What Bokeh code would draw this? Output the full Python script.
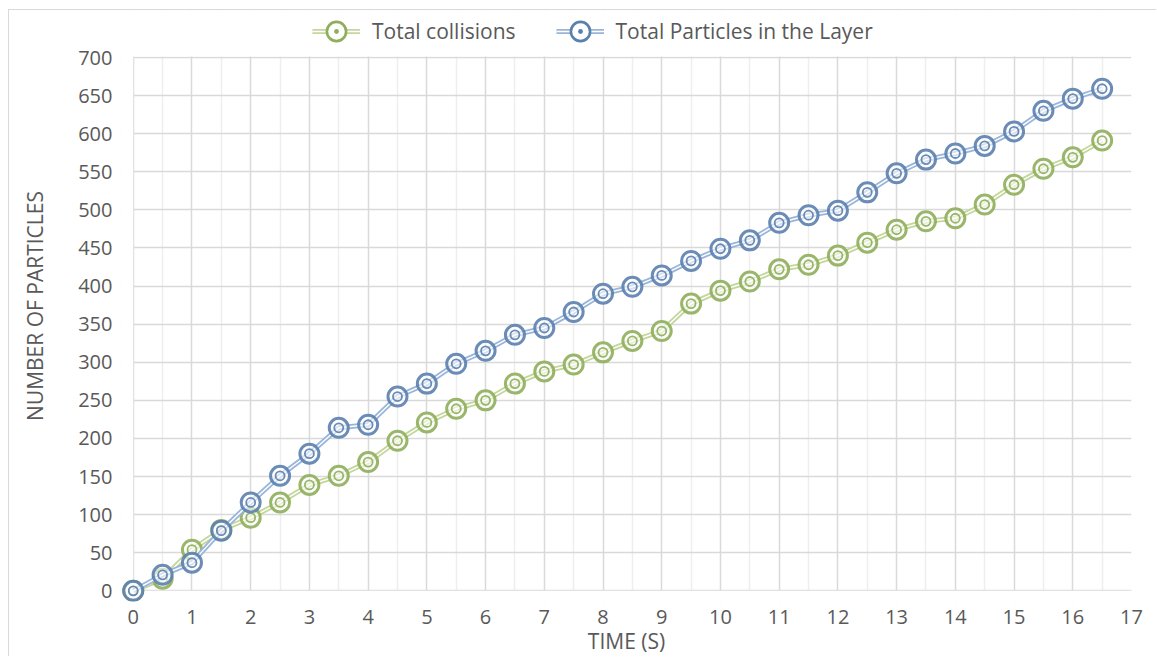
from bokeh.plotting import figure
from bokeh.models import (Legend, LegendItem, FixedTicker, BoxAnnotation,
                          ColumnDataSource, Range1d)
from bokeh.embed import file_html
from bokeh.resources import INLINE

# Time samples (s)
time_s = [0, 0.5, 1, 1.5, 2, 2.5, 3, 3.5, 4, 4.5, 5, 5.5, 6, 6.5, 7, 7.5, 8, 8.5,
          9, 9.5, 10, 10.5, 11, 11.5, 12, 12.5, 13, 13.5, 14, 14.5, 15, 15.5, 16, 16.5]

total_collisions = [0, 16, 54, 80, 96, 116, 139, 151, 169, 197, 221, 239, 250, 272,
                    288, 297, 313, 328, 341, 377, 394, 406, 422, 428, 440, 457, 474,
                    485, 489, 507, 533, 554, 569, 591]

particles_in_layer = [0, 21, 37, 79, 116, 151, 180, 214, 218, 255, 272, 298, 315, 336,
                      345, 366, 390, 399, 414, 433, 449, 460, 483, 493, 499, 523, 548,
                      566, 574, 584, 603, 630, 646, 659]

series_names = ["Total collisions", "Total Particles in the Layer"]

x_major = list(range(0, 18))
x_minor = [v + 0.5 for v in range(0, 17)]
y_major = list(range(0, 701, 50))
X_MAX, Y_MAX = 17, 700

FONT = "Open Sans"
TEXT = "#595959"
GRID = "#d9d9d9"

# extra room left of x=0 / below y=0 for the first markers, and above y=700
# for the legend row
X0, Y0, Y_TOP = -0.2, -14, 761.7

p = figure(width=1148, height=647, output_backend="svg", toolbar_location=None,
           x_range=Range1d(X0, X_MAX), y_range=Range1d(Y0, Y_TOP),
           min_border_left=112, min_border_right=26, min_border_top=0,
           min_border_bottom=56, background_fill_color="white",
           border_fill_color="white", outline_line_color=None)
p.margin = (9, 0, 0, 8)
p.styles = {"border-left": "1px solid #d9d9d9", "border-top": "1px solid #d9d9d9"}

p.xaxis.ticker = FixedTicker(ticks=x_major, minor_ticks=x_minor)
p.yaxis.ticker = FixedTicker(ticks=y_major)

p.xgrid.grid_line_color = GRID
p.xgrid.grid_line_width = 1.5
p.xgrid.minor_grid_line_color = "#eeeeee"
p.xgrid.minor_grid_line_width = 1.5
p.ygrid.grid_line_color = GRID
p.ygrid.grid_line_width = 1.5

# blank the strips outside the 0..17 / 0..700 plotting area
blank = dict(fill_color="white", fill_alpha=1, line_color=None, level="underlay")
p.add_layout(BoxAnnotation(right=0, **blank))
p.add_layout(BoxAnnotation(top=0, left=0, **blank))
p.add_layout(BoxAnnotation(bottom=Y_MAX + 1.2, **blank))

for ax in (p.xaxis[0], p.yaxis[0]):
    ax.axis_line_color = None
    ax.major_tick_line_color = None
    ax.minor_tick_line_color = None
    ax.major_label_text_font = FONT
    ax.major_label_text_font_size = "20px"
    ax.major_label_text_color = TEXT
    ax.axis_label_text_font = FONT
    ax.axis_label_text_font_size = "21px"
    ax.axis_label_text_font_style = "normal"
    ax.axis_label_text_color = TEXT

p.xaxis.axis_label = "TIME (S)"
p.yaxis.axis_label = "NUMBER OF PARTICLES"
p.xaxis.major_label_standoff = 2
p.xaxis.axis_label_standoff = 0
p.yaxis.major_label_standoff = 3
p.yaxis.axis_label_standoff = 26

styles = [
    ("#c3d69b", "#8fae5a"),   # green series
    ("#9ab5da", "#5a80ae"),   # blue series
]

items = []
for name, ys, (line_col, mark_col) in zip(series_names,
                                           [total_collisions, particles_in_layer],
                                           styles):
    src = ColumnDataSource(dict(x=time_s, y=ys))
    # double line: coloured band with a thin white core
    r1 = p.line("x", "y", source=src, line_color=line_col, line_width=5)
    r2 = p.line("x", "y", source=src, line_color="white", line_width=1.4)
    # double-ring marker
    p.scatter("x", "y", source=src, marker="circle", size=19,
              fill_color="white", fill_alpha=0.6, line_color=mark_col,
              line_width=3, line_alpha=0.9)
    p.scatter("x", "y", source=src, marker="circle", size=9,
              fill_alpha=0, line_color=mark_col, line_width=1.8, line_alpha=0.9)
    # legend key marker (legend scales all markers to one size)
    key = p.scatter("x", "y", source=src, marker="circle_dot", size=19,
                    fill_color="white", line_color=mark_col, line_width=2.6,
                    visible=False)
    items.append(LegendItem(label=name, renderers=[r1, r2, key]))

legend = Legend(items=items, orientation="horizontal", location=(191, 546),
                glyph_width=48, glyph_height=48, label_standoff=12, spacing=40,
                padding=0, margin=0, border_line_color=None,
                background_fill_alpha=0, label_text_font=FONT,
                label_text_font_size="21px", label_text_color=TEXT)
p.add_layout(legend, "center")

open("out.html", "w").write(file_html(p, INLINE))
